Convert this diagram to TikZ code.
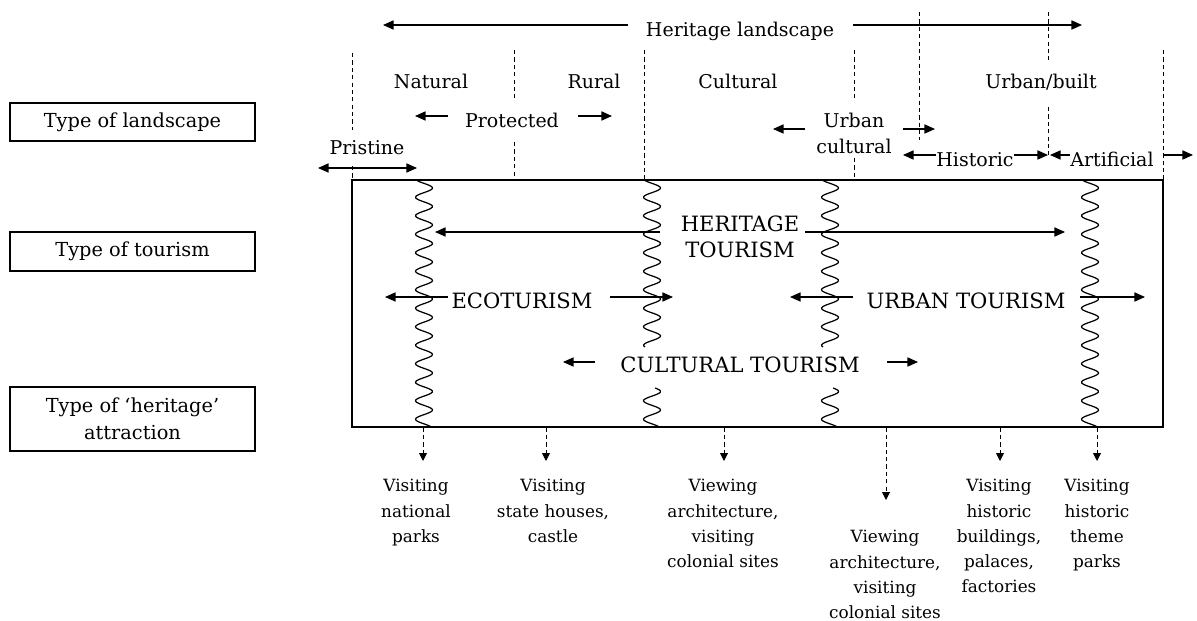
\documentclass[tikz,border=0pt]{standalone}
\usepackage{fontspec}
\setmainfont{DejaVu Serif}
\usetikzlibrary{arrows.meta}

\tikzset{
  rule/.style={line width=0.7pt},
  tip/.style={rule, -{Triangle[length=6pt,width=5.2pt]}},
  twotip/.style={rule, {Triangle[length=6pt,width=5.2pt]}-{Triangle[length=6pt,width=5.2pt]}},
  divider/.style={line width=0.55pt, dash pattern=on 2.4pt off 1.8pt},
  droparrow/.style={divider, -{Triangle[length=4.5pt,width=4.5pt]}},
  waveline/.style={line width=0.7pt},
  rowlabel/.style={draw, line width=0.7pt, minimum width=4.9cm, inner sep=0pt,
    align=center, font=\fontsize{11}{15.3}\selectfont},
  zone/.style={inner sep=0pt, anchor=base, align=center, font=\fontsize{10.8}{14.7}\selectfont},
  kind/.style={inner sep=0pt, anchor=base, align=center, font=\fontsize{12}{14.7}\selectfont},
  visit/.style={inner sep=0pt, anchor=north, align=center, font=\fontsize{9.6}{14.4}\selectfont},
}

% vertical wavy boundary between two kinds of tourism
\newcommand\tourwave[4]{%
  \draw[waveline] plot[variable=\t, domain=#2:#3, samples=#4, smooth]
    ({#1+8.5*cos((\t-188)/18.5*360)}, \t);}

\begin{document}
\begin{tikzpicture}[x=0.02cm, y=-0.02cm]
\useasboundingbox (0,0) rectangle (1197,621);

% ---- row headings on the left
\node[rowlabel, minimum height=0.76cm] (rowland) at (132.5,122) {Type of landscape};
\node[rowlabel, minimum height=0.78cm] (rowtour) at (132.5,251.5) {Type of tourism};
\node[rowlabel, minimum height=1.28cm] (rowattr) at (132.5,419) {Type of ‘heritage’\\attraction};

% ---- frame holding the tourism types
\node[draw, rule, minimum width=16.22cm, minimum height=4.94cm, inner sep=0pt] (frame) at (757.5,303.5) {};

% ---- dashed dividers between landscape types
\draw[divider] (352,53) -- (352,130);
\draw[divider] (352,166) -- (352,180);
\draw[divider] (514,50) -- (514,100);
\draw[divider] (514,142) -- (514,180);
\draw[divider] (644,50) -- (644,180);
\draw[divider] (854,50) -- (854,100);
\draw[divider] (854,158) -- (854,180);
\draw[divider] (919,12) -- (919,140);
\draw[divider] (1048,12) -- (1048,63);
\draw[divider] (1048,107) -- (1048,158);
\draw[divider] (1163,50) -- (1163,180);

% ---- landscape labels
\node[zone] (hl) at (740,37) {Heritage landscape};
\coordinate (hlA) at (628,25); \coordinate (hlL) at (383,25);
\coordinate (hlB) at (853,25); \coordinate (hlR) at (1082,25);
\draw[tip] (hlA) -- (hlL);
\draw[tip] (hlB) -- (hlR);

\node[zone] (natural) at (431,89) {Natural};
\node[zone] (rural) at (594,89) {Rural};
\node[zone] (cultural) at (738,89) {Cultural};
\node[zone] (urbanbuilt) at (1041,89) {Urban/built};

\node[zone] (protected) at (512,128) {Protected};
\coordinate (prA) at (448,116); \coordinate (prL) at (415,116);
\coordinate (prB) at (578,116); \coordinate (prR) at (612,116);
\draw[tip] (prA) -- (prL);
\draw[tip] (prB) -- (prR);

\node[zone] (pristine) at (367,155) {Pristine};
\coordinate (piL) at (318,168); \coordinate (piR) at (417,168);
\draw[twotip] (piL) -- (piR);

\node[zone, anchor=north] (urbcult) at (854,113) {Urban\\cultural};
\coordinate (ucA) at (805,129); \coordinate (ucL) at (773,129);
\coordinate (ucB) at (903,129); \coordinate (ucR) at (935,129);
\draw[tip] (ucA) -- (ucL);
\draw[tip] (ucB) -- (ucR);

\node[zone] (historic) at (975,167) {Historic};
\coordinate (hiL) at (903,155); \coordinate (hiR) at (1048,155);
\draw[tip] (historic.west |- hiL) -- (hiL);
\draw[tip] (historic.east |- hiR) -- (hiR);

\node[zone] (artificial) at (1112,167) {Artificial};
\coordinate (arL) at (1050,155); \coordinate (arR) at (1193,155);
\draw[tip] (artificial.west |- arL) -- (arL);
\draw[tip] (1163,155) -- (arR);

% ---- wavy boundaries inside the frame
\tourwave{424}{180}{427}{220}
\tourwave{652}{180}{347}{150}
\tourwave{652}{388}{427}{40}
\tourwave{830}{180}{347}{150}
\tourwave{830}{388}{427}{40}
\tourwave{1090}{180}{427}{220}

% ---- tourism types
\node[kind, anchor=north] (heritage) at (740,216) {HERITAGE\\TOURISM};
\coordinate (htA) at (660,232); \coordinate (htL) at (435,232);
\coordinate (htB) at (805,232); \coordinate (htR) at (1065,232);
\draw[tip] (htA) -- (htL);
\draw[tip] (htB) -- (htR);

\node[kind] (eco) at (522,309) {ECOTURISM};
\coordinate (ecA) at (448,297); \coordinate (ecL) at (385,297);
\coordinate (ecB) at (610,297); \coordinate (ecR) at (673,297);
\draw[tip] (ecA) -- (ecL);
\draw[tip] (ecB) -- (ecR);

\node[kind] (urban) at (966,309) {URBAN TOURISM};
\coordinate (utA) at (853,297); \coordinate (utL) at (790,297);
\coordinate (utB) at (1080,297); \coordinate (utR) at (1145,297);
\draw[tip] (utA) -- (utL);
\draw[tip] (utB) -- (utR);

\node[kind] (culture) at (740,373) {CULTURAL TOURISM};
\coordinate (ctA) at (595,362); \coordinate (ctL) at (563,362);
\coordinate (ctB) at (887,362); \coordinate (ctR) at (918,362);
\draw[tip] (ctA) -- (ctL);
\draw[tip] (ctB) -- (ctR);

% ---- heritage attractions below the frame
\coordinate (d1) at (423,461);
\coordinate (d2) at (546,461);
\coordinate (d3) at (724,461);
\coordinate (d4) at (886,500);
\coordinate (d5) at (1000,461);
\coordinate (d6) at (1097,461);
\foreach \d in {d1,d2,d3,d4,d5,d6}
  \draw[droparrow] (frame.south -| \d) -- (\d);

\node[visit] (parks) at (416,479) {Visiting\\national\\parks};
\node[visit] (houses) at (553,479) {Visiting\\state houses,\\castle};
\node[visit] (colonialA) at (723,479) {Viewing\\architecture,\\visiting\\colonial sites};
\node[visit] (colonialB) at (885,530) {Viewing\\architecture,\\visiting\\colonial sites};
\node[visit] (buildings) at (999,479) {Visiting\\historic\\buildings,\\palaces,\\factories};
\node[visit] (themeparks) at (1097,479) {Visiting\\historic\\theme\\parks};
\end{tikzpicture}
\end{document}
